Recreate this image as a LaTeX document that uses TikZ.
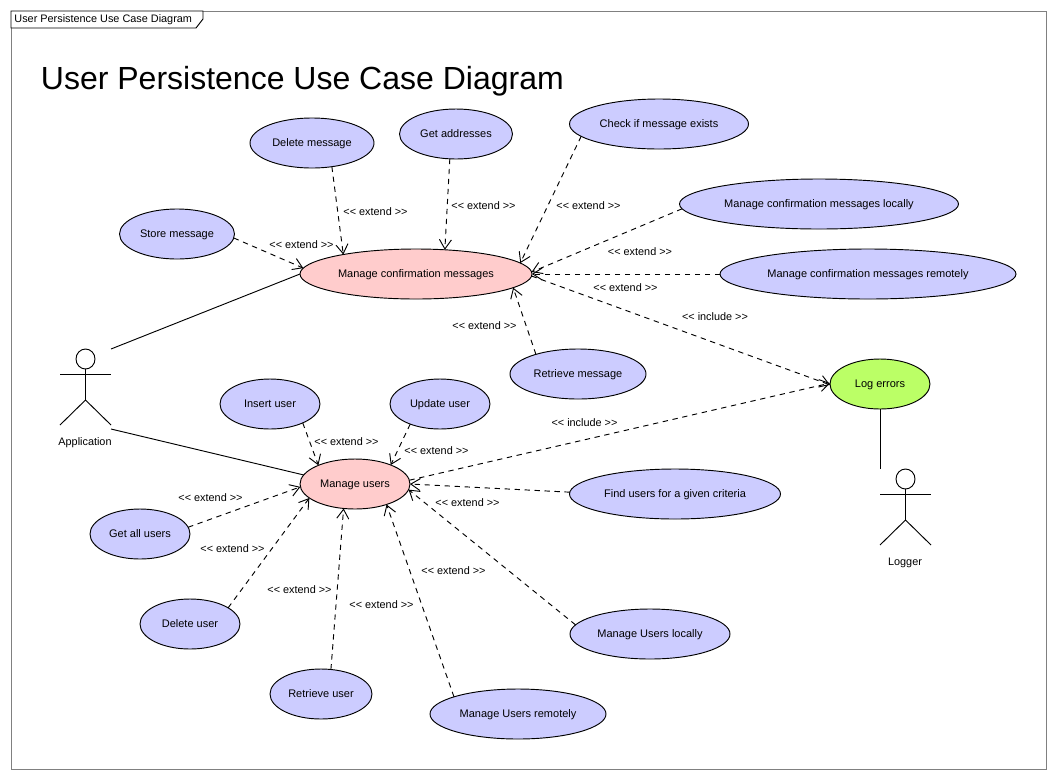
\documentclass[tikz,border=0pt]{standalone}
\usepackage{fontspec}
\setmainfont{Liberation Sans}
\usetikzlibrary{shapes.geometric,arrows.meta}
\definecolor{ucblue}{RGB}{204,204,255}
\definecolor{ucpink}{RGB}{255,204,204}
\definecolor{ucgreen}{RGB}{187,255,102}
\definecolor{framegray}{RGB}{128,128,128}
\tikzset{
  x=0.75pt,y=-0.75pt,
  every path/.style={line width=0.7pt},
  wpx/.style={minimum width=#1*0.75pt},
  uc/.style={ellipse,draw=black,inner sep=0pt,outer sep=0pt,minimum height=37.5pt,text height=5pt,text depth=0pt,font=\fontsize{8.25pt}{9pt}\selectfont},
  ucb/.style={uc,fill=ucblue},
  ucp/.style={uc,fill=ucpink},
  ucg/.style={uc,fill=ucgreen},
  rel/.style={draw=black,dash pattern=on 4pt off 3.5pt,-{Straight Barb[length=7pt,width=9pt]}},
  assoc/.style={draw=black},
  lab/.style={inner sep=0pt,font=\fontsize{8.15pt}{9pt}\selectfont},
  actorbox/.style={inner sep=0pt,outer sep=0pt,anchor=north west},
}
\newcommand{\stick}[2]{%
  \begin{scope}[shift={(#1,#2)}]
    \draw (25.5,10) ellipse [x radius=9.5,y radius=10];
    \draw (0,25) -- (51,25);
    \draw (25.5,20) -- (25.5,51);
    \draw (0,76) -- (25.5,51) -- (51,76);
  \end{scope}}
\begin{document}
\begin{tikzpicture}
\useasboundingbox[fill=white] (0,0) rectangle (1056,779);
\draw[framegray] (11,11) rectangle (1046,769);
\draw[black,fill=white] (11,11) -- (203,11) -- (203,19) -- (196,28) -- (11,28) -- cycle;
\node[anchor=west,inner sep=0pt,font=\fontsize{8.15pt}{9pt}\selectfont] (tab) at (14,20) {User Persistence Use Case Diagram};
\node[anchor=west,inner sep=0pt,font=\fontsize{24pt}{28pt}\selectfont] (title) at (40.5,81) {User Persistence Use Case Diagram};

% use cases
\node[ucb,wpx=124] (del) at (312,143) {Delete message};
\node[ucb,wpx=113] (get) at (456,134) {Get addresses};
\node[ucb,wpx=179] (chk) at (659,124) {Check if message exists};
\node[ucb,wpx=115] (sto) at (177,234) {Store message};
\node[ucp,wpx=232] (mcm) at (416,274) {Manage confirmation messages};
\node[ucb,wpx=279] (loc) at (819,204) {Manage confirmation messages locally};
\node[ucb,wpx=296] (rem) at (868,274) {Manage confirmation messages remotely};
\node[ucb,wpx=136] (ret) at (578,374) {Retrieve message};
\node[ucg,wpx=100] (log) at (880,384) {Log errors};
\node[ucb,wpx=100] (ins) at (270,404) {Insert user};
\node[ucb,wpx=100] (upd) at (440,404) {Update user};
\node[ucp,wpx=110] (muc) at (355,484) {Manage users};
\node[ucb,wpx=211] (fnd) at (675,494) {Find users for a given criteria};
\node[ucb,wpx=100] (gau) at (140,534) {Get all users};
\node[ucb,wpx=100] (deu) at (190,624) {Delete user};
\node[ucb,wpx=102] (reu) at (321,694) {Retrieve user};
\node[ucb,wpx=176] (mur) at (518,714) {Manage Users remotely};
\node[ucb,wpx=160] (mul) at (650,634) {Manage Users locally};

% actors
\node[actorbox,minimum width=38.25pt,minimum height=60pt] (app) at (60,349) {};
\stick{60}{349}
\node[lab] (applab) at (85,443) {Application};
\node[actorbox,minimum width=38.25pt,minimum height=57pt] (lgr) at (880,469) {};
\stick{880}{469}
\node[lab] (lgrlab) at (905,563) {Logger};

% associations
\draw[assoc] (app.north east) -- (mcm.180);
\draw[assoc] (app.south east) -- (muc.170);
\draw[assoc] (log.270) -- (lgr.north west);

% relations to Manage confirmation messages
\draw[rel] (sto.-4) -- (mcm.177.5);
\draw[rel] (del.-50) -- (mcm.165);
\draw[rel] (get.-104) -- (mcm.40);
\draw[rel] (chk.-171.3) -- (mcm.6);
\draw[rel] (loc.-178.4) -- (mcm.1.5);
\draw[rel] (rem.180) -- (mcm.0);
\draw[rel] (ret.155.6) -- (mcm.-8.4);
\draw[rel] (mcm.-1) -- (log.181);

% relations to Manage users
\draw[rel] (ins.-30) -- (muc.153);
\draw[rel] (upd.-146) -- (muc.28.5);
\draw[rel] (muc.4) -- (log.179);
\draw[rel] (fnd.179.5) -- (muc.0);
\draw[rel] (mul.173.4) -- (muc.-6.5);
\draw[rel] (mur.165) -- (muc.-33);
\draw[rel] (reu.68) -- (muc.-115);
\draw[rel] (deu.23.7) -- (muc.-163);
\draw[rel] (gau.8) -- (muc.-177);

% labels
\newcommand{\ext}{<{}< extend >{}>}
\newcommand{\inc}{<{}< include >{}>}
\node[lab] (l1) at (375.5,211.5) {\ext};
\node[lab] (l2) at (483.5,205.5) {\ext};
\node[lab] (l3) at (588.5,205.5) {\ext};
\node[lab] (l4) at (640,251.5) {\ext};
\node[lab] (l5) at (625.5,287.5) {\ext};
\node[lab] (l6) at (715,316.5) {\inc};
\node[lab] (l7) at (301.5,244.5) {\ext};
\node[lab] (l8) at (484.5,325.5) {\ext};
\node[lab] (l9) at (346.5,441.5) {\ext};
\node[lab] (l10) at (436.5,450.5) {\ext};
\node[lab] (l11) at (584.5,422.5) {\inc};
\node[lab] (l12) at (467.5,502.5) {\ext};
\node[lab] (l13) at (453.5,570.5) {\ext};
\node[lab] (l14) at (381.5,604.5) {\ext};
\node[lab] (l15) at (299.5,589.5) {\ext};
\node[lab] (l16) at (232.5,548.5) {\ext};
\node[lab] (l17) at (210.5,497.5) {\ext};
\end{tikzpicture}
\end{document}
